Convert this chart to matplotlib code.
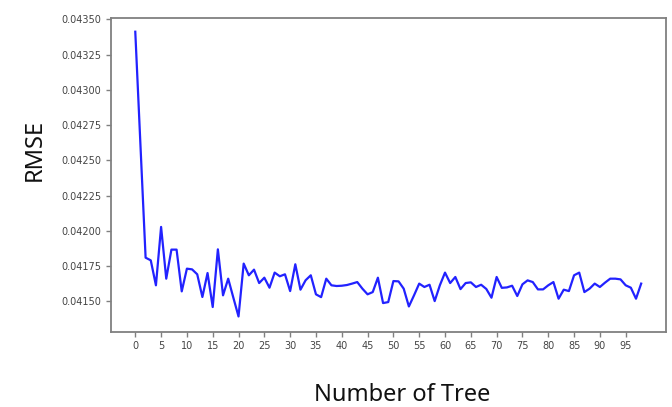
import matplotlib
matplotlib.use('Agg')
import matplotlib.pyplot as plt
from matplotlib.ticker import FormatStrFormatter

# RMSE for each number of trees
n_trees = list(range(0, 99))
rmse = [
    0.043412, 0.042610, 0.041810, 0.041791, 0.041614, 0.042028, 0.041661, 0.041867, 0.041867, 0.041571,
    0.041732, 0.041727, 0.041692, 0.041531, 0.041701, 0.041460, 0.041869, 0.041543, 0.041661, 0.041526,
    0.041393, 0.041768, 0.041685, 0.041725, 0.041630, 0.041668, 0.041597, 0.041704, 0.041678, 0.041692,
    0.041573, 0.041763, 0.041583, 0.041650, 0.041685, 0.041550, 0.041530, 0.041661, 0.041614, 0.041609,
    0.041611, 0.041616, 0.041626, 0.041637, 0.041590, 0.041550, 0.041566, 0.041668, 0.041488, 0.041495,
    0.041644, 0.041642, 0.041590, 0.041464, 0.041543, 0.041626, 0.041602, 0.041618, 0.041502, 0.041614,
    0.041704, 0.041630, 0.041673, 0.041587, 0.041630, 0.041635, 0.041602, 0.041618, 0.041588, 0.041526,
    0.041673, 0.041596, 0.041599, 0.041611, 0.041538, 0.041621, 0.041649, 0.041637, 0.041585, 0.041585,
    0.041614, 0.041637, 0.041519, 0.041583, 0.041573, 0.041685, 0.041704, 0.041566, 0.041590, 0.041626,
    0.041602, 0.041633, 0.041661, 0.041661, 0.041656, 0.041614, 0.041597, 0.041519, 0.041626,
]
x_ticks = list(range(0, 100, 5))
y_ticks = [0.04150, 0.04175, 0.04200, 0.04225, 0.04250, 0.04275, 0.04300, 0.04325, 0.04350]

fig = plt.figure(figsize=(6.72, 4.07), dpi=100)
ax = fig.add_axes([0.1652, 0.185, 0.8258, 0.77])

ax.plot(n_trees, rmse, color='#2222ff', linewidth=1.6)

ax.set_xlim(-4.7, 102.8)
ax.set_ylim(0.041285, 0.043507)
ax.set_xticks(x_ticks)
ax.set_yticks(y_ticks)
ax.yaxis.set_major_formatter(FormatStrFormatter('%.5f'))

for side in ax.spines.values():
    side.set_color('#808080')
    side.set_linewidth(1.3)
ax.tick_params(colors='#808080', labelcolor='#444444', labelsize=7, length=3.5, width=1)

lab_font = ['Noto Sans', 'DejaVu Sans']
fig.text(0.052, 0.632, 'RMSE', rotation=90, ha='center', va='center',
         fontsize=17, family=lab_font, color='#111111')
fig.text(0.598, 0.03, 'Number of Tree', ha='center', va='center',
         fontsize=17, family=lab_font, color='#111111')

plt.savefig('out.png', dpi=100)
plt.close()
